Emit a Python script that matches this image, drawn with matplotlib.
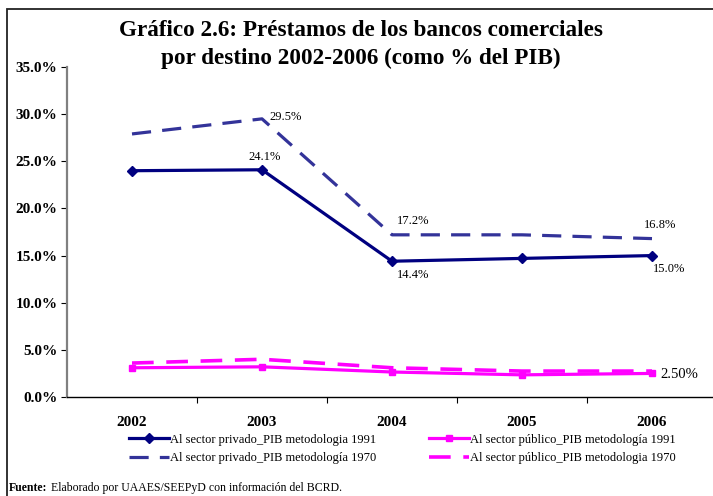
import matplotlib
matplotlib.use("Agg")
import matplotlib.pyplot as plt
from matplotlib.patches import Rectangle

plt.rcParams['font.family'] = ['Liberation Serif', 'DejaVu Serif']

years = ["2002", "2003", "2004", "2005", "2006"]
privado_1991 = [24.0, 24.1, 14.4, 14.7, 15.0]
publico_1991 = [3.1, 3.2, 2.65, 2.35, 2.5]
privado_1970 = [27.9, 29.5, 17.2, 17.2, 16.8]
publico_1970 = [3.6, 4.0, 3.1, 2.75, 2.75]

names = ["Al sector privado_PIB metodologia 1991",
         "Al sector público_PIB metodología 1991",
         "Al sector privado_PIB metodología 1970",
         "Al sector público_PIB metodologia 1970"]

# (series, index, text, dx px, dy px, ha, fontsize)
labels = [
    (privado_1991, 1, "24.1%", 3, 13, "center", 9),
    (privado_1970, 1, "29.5%", 7, 2, "left", 9),
    (privado_1970, 2, "17.2%", 5, 14, "left", 9),
    (privado_1970, 4, "16.8%", -8, 14, "left", 9),
    (privado_1991, 2, "14.4%", 5, -14, "left", 9),
    (privado_1991, 4, "15.0%", 1, -13, "left", 9),
    (publico_1991, 4, "2.50%", 8, -1, "left", 10.5),
]

fig = plt.figure(figsize=(7.13, 4.96), dpi=100)
ax = fig.add_axes([67 / 713, 99 / 496, 650 / 713, 330 / 496])
x = range(len(years))

navy = "#000080"
slate = "#333399"
pink = "#FF00FF"

l1, = ax.plot(x, privado_1991, color=navy, lw=2.3, marker="D", ms=5, zorder=4)
l3, = ax.plot(x, privado_1970, color=slate, lw=2.3, dashes=(6, 3.5), zorder=3)
l2, = ax.plot(x, publico_1991, color=pink, lw=2.3, marker="s", ms=4.5, zorder=4)
l4, = ax.plot(x, publico_1970, color=pink, lw=2.6, dashes=(6, 3.5), zorder=3)

for series, i, txt, dx, dy, ha, fs in labels:
    ax.annotate(txt, (i, series[i]), xytext=(dx, dy), textcoords="offset pixels",
                ha=ha, va="center", fontsize=fs)

ax.set_xlim(-0.5, len(years) - 0.5)
ax.set_ylim(0, 35)
ax.set_yticks(range(0, 36, 5))
ax.set_yticklabels([f"{v:.1f}%" for v in range(0, 36, 5)], fontsize=11, fontweight="bold")
ax.set_xticks([i - 0.5 for i in range(1, len(years) + 1)])
ax.set_xticklabels([])
ax.set_xticks(list(x), minor=True)
ax.set_xticklabels(years, minor=True, fontsize=11, fontweight="bold")
ax.tick_params(axis="x", which="minor", length=0, pad=14)
ax.tick_params(axis="x", which="major", length=4, direction="out")
ax.tick_params(axis="y", length=4, direction="out", pad=3)
ax.spines["top"].set_visible(False)
ax.spines["right"].set_visible(False)
ax.spines["left"].set_color("#808080")
ax.spines["left"].set_linewidth(1.6)
ax.spines["bottom"].set_linewidth(1.0)

fig.text(361 / 713, 1 - 30 / 496, "Gráfico 2.6: Préstamos de los bancos comerciales",
         ha="center", va="center", fontsize=16.7, fontweight="bold")
fig.text(361 / 713, 1 - 58 / 496, "por destino 2002-2006 (como % del PIB)",
         ha="center", va="center", fontsize=16.7, fontweight="bold")

fig.legend([l1, l3, l2, l4], [names[0], names[2], names[1], names[3]], ncol=2,
           loc="center", bbox_to_anchor=(402 / 713, 1 - 449 / 496), frameon=False,
           fontsize=9, handlelength=3.2, handletextpad=0.1, columnspacing=4.2,
           labelspacing=0.55)

fig.text(9 / 713, 1 - 488 / 496, "Fuente:", fontsize=8.5, fontweight="bold",
         va="center", ha="left")
fig.text(51 / 713, 1 - 488 / 496, "Elaborado por UAAES/SEEPyD con información del BCRD.",
         fontsize=8.5, va="center", ha="left")

fig.patches.append(Rectangle((7 / 713, -0.1), 1.2, 1 - 9 / 496 + 0.1,
                             transform=fig.transFigure, fill=False,
                             edgecolor="#222222", lw=1.3))

fig.savefig("out.png", dpi=100)
